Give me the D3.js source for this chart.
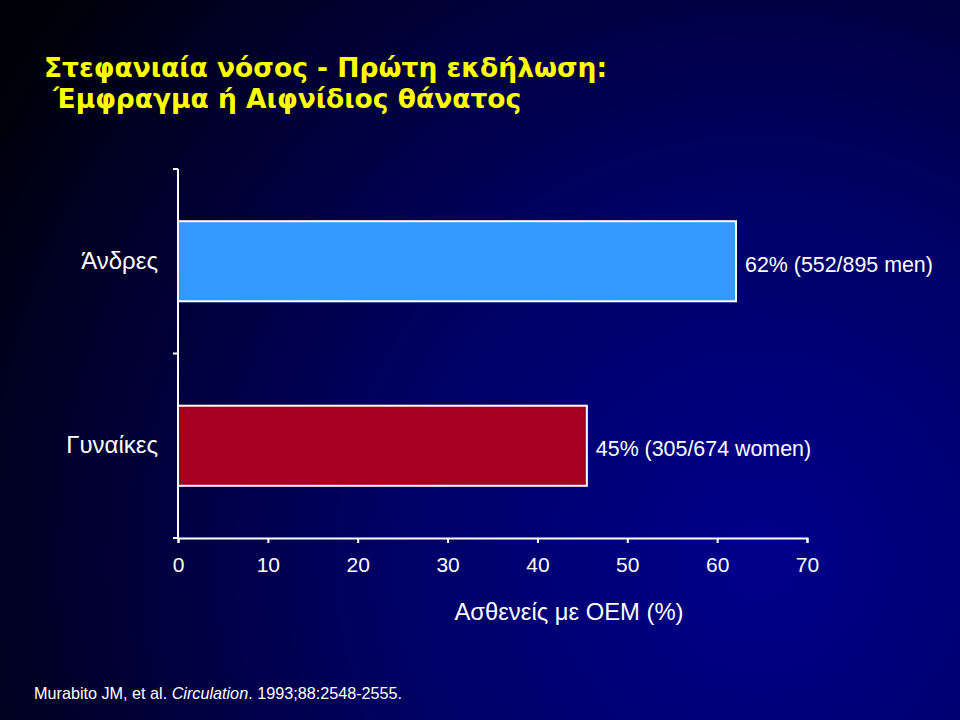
<!DOCTYPE html>
<html>
<head>
<meta charset="utf-8">
<script src="https://cdn.jsdelivr.net/npm/d3@7"></script>
<style>
  body { margin: 0; background: #000; }
  svg { display: block; }
  text { font-family: "Liberation Sans", Arial, sans-serif; }
</style>
</head>
<body>
<div></div>
<script>
// chart data
var categories = ["Άνδρες", "Γυναίκες"];
var values = [62.1, 45.5];
var valueLabels = ["62% (552/895 men)", "45% (305/674 women)"];
var barColors = ["#3399ff", "#a50021"];
var xTicks = [0, 10, 20, 30, 40, 50, 60, 70];

var titleLines = ["Στεφανιαία νόσος - Πρώτη εκδήλωση:", " Έμφραγμα ή Αιφνίδιος θάνατος"];
var xTitle = "Ασθενείς με ΟΕΜ (%)";

var width = 960, height = 720;

var svg = d3.select("div").append("svg")
        .attr("width", width)
        .attr("height", height);

// background: dark navy radial glow
var defs = svg.append("defs");
var grad = defs.append("radialGradient")
        .attr("id", "bg")
        .attr("gradientUnits", "userSpaceOnUse")
        .attr("cx", 760).attr("cy", 560).attr("r", 900);
grad.append("stop").attr("offset", "0").attr("stop-color", "#00008c");
grad.append("stop").attr("offset", "0.45").attr("stop-color", "#000060");
grad.append("stop").attr("offset", "1").attr("stop-color", "#000008");

svg.append("rect")
    .attr("width", width).attr("height", height)
    .attr("fill", "url(#bg)");

// title (style, so the css rule on text does not win)
svg.append("text")
    .attr("x", 44).attr("y", 77)
    .attr("fill", "#ffff00")
    .attr("font-size", 26.5)
    .attr("font-weight", "bold")
    .style("font-family", "'DejaVu Sans', Verdana, sans-serif")
    .attr("xml:space", "preserve")
    .selectAll("tspan")
    .data(titleLines)
    .join("tspan")
    .attr("x", 44)
    .attr("dy", function(d, i) { return i === 0 ? 0 : 31; })
    .text(function(d) { return d; });

var x = d3.scaleLinear().domain([0, 70]).range([178, 807]);
var y = d3.scaleBand().domain(categories).range([169, 538])
        .paddingInner(0.566).paddingOuter(0.283);

// bars
svg.selectAll("rect.bar")
    .data(values)
    .join("rect")
    .attr("class", "bar")
    .attr("x", x(0))
    .attr("y", function(d, i) { return y(categories[i]); })
    .attr("width", function(d) { return x(d) - x(0); })
    .attr("height", y.bandwidth())
    .attr("fill", function(d, i) { return barColors[i]; })
    .attr("stroke", "#ffffff")
    .attr("stroke-width", 2);

// value labels
svg.selectAll("text.val")
    .data(values)
    .join("text")
    .attr("class", "val")
    .attr("x", function(d) { return x(d) + 9; })
    .attr("y", function(d, i) { return y(categories[i]) + y.bandwidth() / 2 + 3; })
    .attr("dy", "0.35em")
    .attr("fill", "#ffffff")
    .attr("font-size", 21.4)
    .text(function(d, i) { return valueLabels[i]; });

// x axis
var xAxis = svg.append("g")
        .attr("transform", "translate(0," + y.range()[1] + ")")
        .call(d3.axisBottom(x).tickValues(xTicks).tickSize(5).tickPadding(14).tickSizeOuter(5));
xAxis.select(".domain").attr("stroke", "#ffffff").attr("stroke-width", 2);
xAxis.selectAll(".tick line").attr("stroke", "#ffffff").attr("stroke-width", 2);
xAxis.selectAll(".tick text")
    .attr("fill", "#ffffff")
    .attr("font-size", 21);

// y axis: line, ticks at band boundaries, labels at band centers
var yAxis = svg.append("g")
        .attr("transform", "translate(" + x(0) + ",0)")
        .call(d3.axisLeft(y).tickSize(0).tickPadding(20));
yAxis.select(".domain").attr("stroke", "#ffffff").attr("stroke-width", 2)
    .attr("d", "M0," + y.range()[0] + "V" + y.range()[1]);
yAxis.selectAll(".tick text")
    .attr("fill", "#ffffff")
    .attr("font-size", 24);

var bounds = d3.range(categories.length + 1).map(function(i) {
    return y.range()[0] + i * y.step();
});
yAxis.selectAll("line.bound")
    .data(bounds)
    .join("line")
    .attr("class", "bound")
    .attr("x1", -5).attr("x2", 0)
    .attr("y1", function(d) { return d; })
    .attr("y2", function(d) { return d; })
    .attr("stroke", "#ffffff")
    .attr("stroke-width", 2);

// x axis title
svg.append("text")
    .attr("x", 569).attr("y", 620)
    .attr("text-anchor", "middle")
    .attr("fill", "#ffffff")
    .attr("font-size", 23.8)
    .text(xTitle);

// source note
var note = svg.append("text")
        .attr("x", 34).attr("y", 699)
        .attr("fill", "#ffffff")
        .attr("font-size", 16.2);
note.append("tspan").text("Murabito JM, et al. ");
note.append("tspan").attr("font-style", "italic").text("Circulation");
note.append("tspan").text(". 1993;88:2548-2555.");
</script>
</body>
</html>
